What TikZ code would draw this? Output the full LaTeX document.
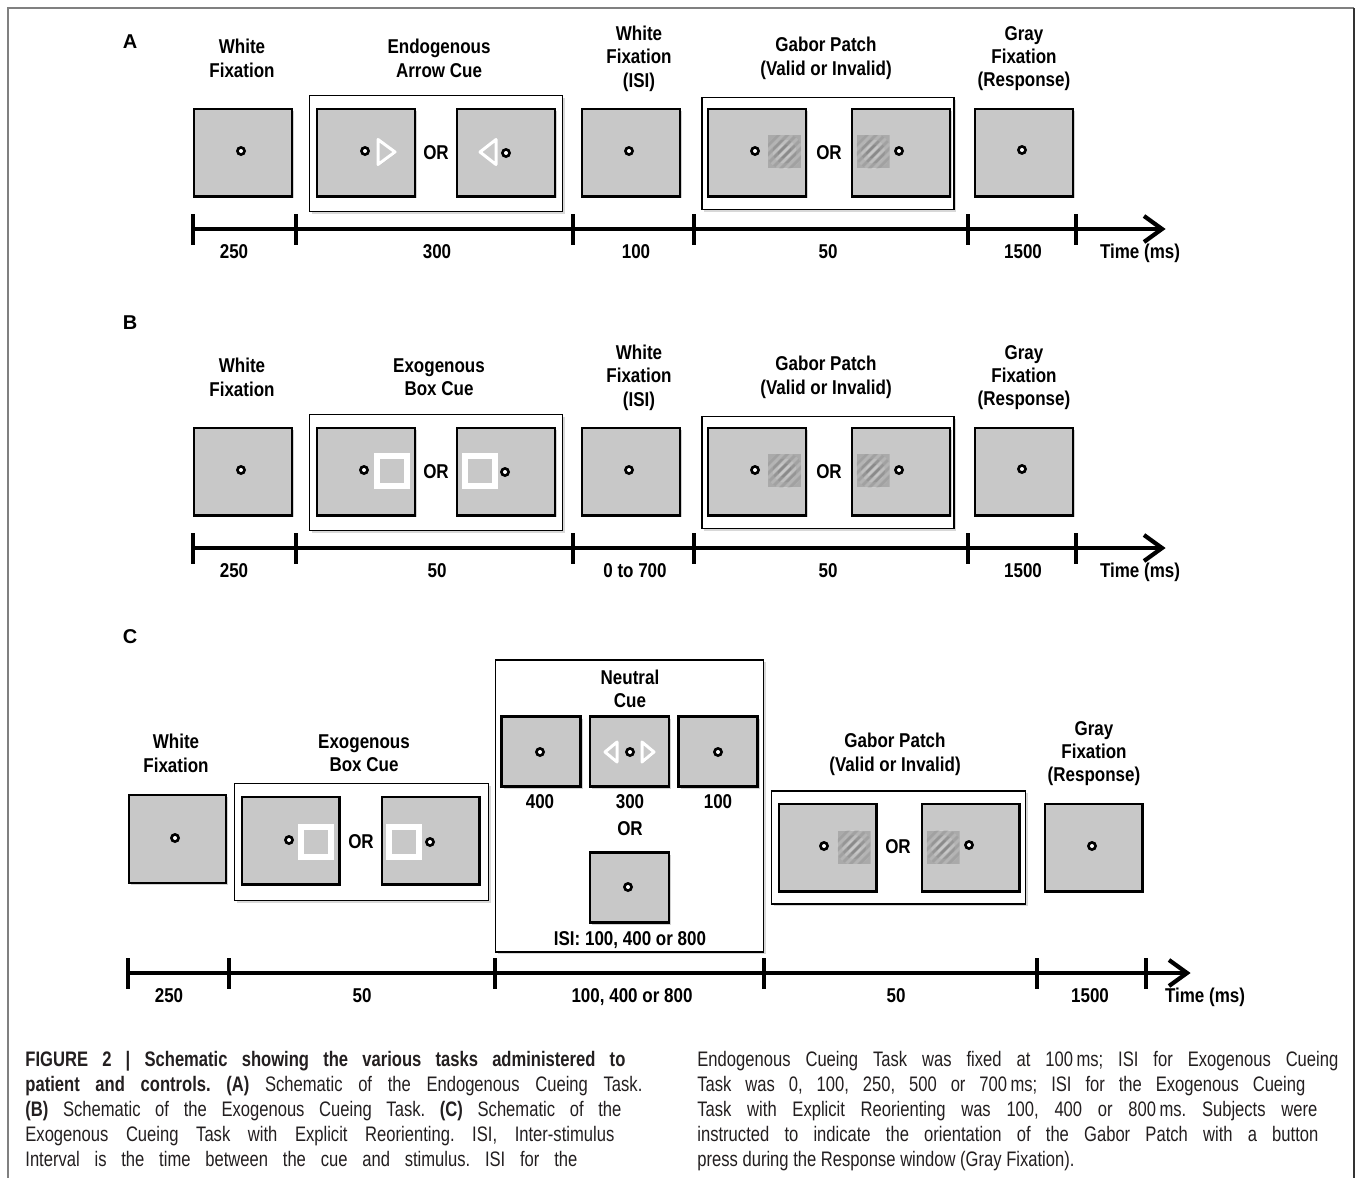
\documentclass[tikz,border=0pt]{standalone}
\usepackage{fontspec}
\setmainfont{Liberation Sans}
\newfontfamily\tfont[FakeStretch=0.85]{Liberation Sans}
\newfontfamily\cfont[FakeStretch=0.79]{Liberation Sans}
\usetikzlibrary{shadows}
\definecolor{boxgray}{RGB}{200,200,200}
\definecolor{gabbg}{RGB}{170,170,170}
\definecolor{capcol}{RGB}{35,31,32}
\newcommand\fxdot[2]{\fill[black] (#1,#2) circle[radius=2.5pt]; \fill[white] (#1,#2) circle[radius=1.0pt];}
\newcommand\gabstripes[4]{% x, y, white opacity, black opacity
  \foreach \k in {-3,-2,-1,0,1,2,3}{
    \draw[white, opacity=#3, line width=1.8pt] (#1-30+\k*9,#2+30) -- (#1+30+\k*9,#2-30);
    \draw[black, opacity=#4, line width=1.8pt] (#1-25.5+\k*9,#2+30) -- (#1+34.5+\k*9,#2-30);
  }}
\newcommand\gaborpatch[2]{%
  \begin{scope}
  \clip (#1-16.5,#2-16.5) rectangle (#1+16.5,#2+16.5);
  \fill[gabbg] (#1-16.5,#2-16.5) rectangle (#1+16.5,#2+16.5);
  \begin{scope}\clip (#1,#2) circle[radius=9pt]; \gabstripes{#1}{#2}{0.12}{0.05}\end{scope}
  \begin{scope}\clip (#1,#2) circle[radius=6pt]; \gabstripes{#1}{#2}{0.15}{0.07}\end{scope}
  \begin{scope}\clip (#1,#2) circle[radius=3.5pt]; \gabstripes{#1}{#2}{0.15}{0.07}\end{scope}
  \end{scope}}
\newcommand\boxcue[2]{\draw[white, line width=3pt, fill=boxgray] (#1-15,#2-15) rectangle (#1+15,#2+15);}
\newcommand\trih[4]{\draw[white, line width=1.5pt, line join=round, fill=boxgray,
   drop shadow={opacity=0.3,shadow xshift=0.6pt,shadow yshift=-0.6pt}]
   (#1,#2-#4) -- (#1+#3,#2) -- (#1,#2+#4) -- cycle;}
\tikzset{
 stim/.style={draw=black, line width=1.2pt, fill=boxgray, inner sep=0pt, minimum width=48.8pt, minimum height=43.8pt,
   drop shadow={opacity=0.35, shadow xshift=1pt, shadow yshift=-1pt}},
 smallstim/.style={stim, minimum width=39.5pt, minimum height=35pt},
 grp/.style={draw=black, line width=0.9pt, fill=white, inner sep=0pt,
   drop shadow={opacity=0.3, shadow xshift=1pt, shadow yshift=-1pt}},
 ttl/.style={font=\tfont\bfseries\fontsize{10pt}{11.7pt}\selectfont, align=center, inner sep=0pt},
 lbl/.style={font=\tfont\bfseries\fontsize{10pt}{11.7pt}\selectfont, inner sep=0pt},
 panel/.style={font=\bfseries\fontsize{10pt}{12pt}\selectfont, inner sep=0pt},
 tline/.style={line width=2pt},
 tickm/.style={line width=2.1pt},
 capl/.style={font=\cfont\fontsize{10.5pt}{12.5pt}\selectfont\frenchspacing, text=capcol, inner sep=0pt, anchor=base west},
}
\begin{document}
\begin{tikzpicture}[x=0.5pt, y=-0.5pt]
\useasboundingbox (0,0) rectangle (1355,1178);
\fill[white] (0,0) rectangle (1355,1178);
% outer figure frame
\draw[gray, line width=0.8pt] (8,1190) -- (8,8) -- (1354,8);
\draw[black!80, line width=1.1pt] (1354,8) -- (1354,1190);

% ================= Panel A =================
\node[panel] (pA) at (130,42) {A};
\node[ttl] (tA1) at (242,58.5) {White\\Fixation};
\node[ttl] (tA2) at (439,58.5) {Endogenous\\Arrow Cue};
\node[ttl] (tA3) at (639,58.5) {White\\Fixation\\(ISI)};
\node[ttl] (tA4) at (826,58.5) {Gabor Patch\\(Valid or Invalid)};
\node[ttl] (tA5) at (1024,58.5) {Gray\\Fixation\\(Response)};

\node[grp, minimum width=126.5pt, minimum height=58pt] (gA1) at (436,153.5) {};
\node[grp, minimum width=126pt, minimum height=56pt] (gA2) at (828,153.5) {};
\node[stim] (bA1) at (243,152.5) {};
\node[stim] (bA2a) at (366,152.5) {};
\node[stim] (bA2b) at (506,152.5) {};
\node[stim] (bA3) at (631,152.5) {};
\node[stim] (bA4a) at (757,152.5) {};
\node[stim] (bA4b) at (901,152.5) {};
\node[stim] (bA5) at (1024,152.5) {};
\node[lbl] (oA1) at (436,153) {OR};
\node[lbl] (oA2) at (829,153) {OR};
\fxdot{241}{151}
\fxdot{365}{151}\trih{378}{152}{17}{12.5}
\fxdot{506}{153}\trih{496}{152}{-16}{12.5}
\fxdot{629}{151}
\fxdot{755}{151}\gaborpatch{784.5}{151.5}
\fxdot{899}{151}\gaborpatch{873}{151.5}
\fxdot{1022}{150}

\coordinate (a0) at (193,229); \coordinate (a1) at (296,229); \coordinate (a2) at (573,229);
\coordinate (a3) at (694,229); \coordinate (a4) at (968,229); \coordinate (a5) at (1076,229);
\coordinate (aE) at (1162,229);
\draw[tline] (a0) -- (aE);
\foreach \c in {a0,a1,a2,a3,a4,a5} \draw[tickm] (\c) ++(0,-15) -- ++(0,31);
\draw[tickm, line join=miter] (aE) ++(-18,-13) -- (aE) -- ++(-18,13);
\node[lbl, anchor=base] (lA1) at (234,258) {250};
\node[lbl, anchor=base] (lA2) at (437,258) {300};
\node[lbl, anchor=base] (lA3) at (636,258) {100};
\node[lbl, anchor=base] (lA4) at (828,258) {50};
\node[lbl, anchor=base] (lA5) at (1023,258) {1500};
\node[lbl, anchor=base] (lA6) at (1140,258) {Time (ms)};

% ================= Panel B =================
\node[panel] (pB) at (130,323) {B};
\node[ttl] (tB1) at (242,377.5) {White\\Fixation};
\node[ttl] (tB2) at (439,377.5) {Exogenous\\Box Cue};
\node[ttl] (tB3) at (639,377.5) {White\\Fixation\\(ISI)};
\node[ttl] (tB4) at (826,377.5) {Gabor Patch\\(Valid or Invalid)};
\node[ttl] (tB5) at (1024,377.5) {Gray\\Fixation\\(Response)};

\node[grp, minimum width=126.5pt, minimum height=58pt] (gB1) at (436,472.5) {};
\node[grp, minimum width=126pt, minimum height=56pt] (gB2) at (828,472.5) {};
\node[stim] (bB1) at (243,471.5) {};
\node[stim] (bB2a) at (366,471.5) {};
\node[stim] (bB2b) at (506,471.5) {};
\node[stim] (bB3) at (631,471.5) {};
\node[stim] (bB4a) at (757,471.5) {};
\node[stim] (bB4b) at (901,471.5) {};
\node[stim] (bB5) at (1024,471.5) {};
\node[lbl] (oB1) at (436,472) {OR};
\node[lbl] (oB2) at (829,472) {OR};
\fxdot{241}{470}
\fxdot{364}{470}\boxcue{392}{470.5}
\fxdot{505}{472}\boxcue{480}{471}
\fxdot{629}{470}
\fxdot{755}{470}\gaborpatch{784.5}{470.5}
\fxdot{899}{470}\gaborpatch{873}{470.5}
\fxdot{1022}{469}

\coordinate (b0) at (193,548); \coordinate (b1) at (296,548); \coordinate (b2) at (573,548);
\coordinate (b3) at (694,548); \coordinate (b4) at (968,548); \coordinate (b5) at (1076,548);
\coordinate (bE) at (1162,548);
\draw[tline] (b0) -- (bE);
\foreach \c in {b0,b1,b2,b3,b4,b5} \draw[tickm] (\c) ++(0,-15) -- ++(0,31);
\draw[tickm, line join=miter] (bE) ++(-18,-13) -- (bE) -- ++(-18,13);
\node[lbl, anchor=base] (lB1) at (234,577) {250};
\node[lbl, anchor=base] (lB2) at (437,577) {50};
\node[lbl, anchor=base] (lB3) at (635,577) {0 to 700};
\node[lbl, anchor=base] (lB4) at (828,577) {50};
\node[lbl, anchor=base] (lB5) at (1023,577) {1500};
\node[lbl, anchor=base] (lB6) at (1140,577) {Time (ms)};

% ================= Panel C =================
\node[panel] (pC) at (130,637) {C};
\node[ttl] (tC1) at (176,753.5) {White\\Fixation};
\node[ttl] (tC2) at (364,753.5) {Exogenous\\Box Cue};
\node[ttl] (tC4) at (895,754.5) {Gabor Patch\\(Valid or Invalid)};
\node[ttl] (tC5) at (1094,753.5) {Gray\\Fixation\\(Response)};

\node[stim, minimum width=48.5pt] (bC1) at (177.5,839) {};
\fxdot{175}{838}
\node[grp, minimum width=127pt, minimum height=58.5pt] (gC2) at (361.5,842) {};
\node[stim] (bC2a) at (290.5,840.5) {};
\node[stim] (bC2b) at (430.5,840.5) {};
\node[lbl] (oC2) at (361,842) {OR};
\fxdot{289}{840}\boxcue{316}{842}
\fxdot{430}{842}\boxcue{404}{842}

\node[grp, minimum width=134pt, minimum height=146pt] (gC3) at (629.5,806) {};
\node[ttl] (tC3) at (630,689) {Neutral\\Cue};
\node[smallstim] (bC3a) at (541,751.5) {};
\node[smallstim] (bC3b) at (629.5,751.5) {};
\node[smallstim] (bC3c) at (718,751.5) {};
\node[smallstim] (bC3d) at (629.5,887.5) {};
\fxdot{540}{752}
\fxdot{630}{752}\trih{617}{752}{-12}{10}\trih{642}{752}{12}{10}
\fxdot{718}{752}
\fxdot{628}{887}
\node[lbl, anchor=base] (lC3a) at (540,808) {400};
\node[lbl, anchor=base] (lC3b) at (630,808) {300};
\node[lbl, anchor=base] (lC3c) at (718,808) {100};
\node[lbl, anchor=base] (oC3) at (630,835) {OR};
\node[lbl, anchor=base] (lC3d) at (630,945) {ISI: 100, 400 or 800};

\node[grp, minimum width=127pt, minimum height=56.5pt] (gC4) at (898.5,847.5) {};
\node[stim] (bC4a) at (827.5,847.5) {};
\node[stim] (bC4b) at (970.5,847.5) {};
\node[lbl] (oC4) at (898,847) {OR};
\fxdot{824}{846}\gaborpatch{854}{847}
\fxdot{969}{845}\gaborpatch{943}{847}
\node[stim] (bC5) at (1093.5,847.5) {};
\fxdot{1092}{846}

\coordinate (c0) at (128,973); \coordinate (c1) at (229,973); \coordinate (c2) at (495,973);
\coordinate (c3) at (764,973); \coordinate (c4) at (1037,973); \coordinate (c5) at (1146,973);
\coordinate (cE) at (1187,973);
\draw[tline] (c0) -- (cE);
\foreach \c in {c0,c1,c2,c3,c4,c5} \draw[tickm] (\c) ++(0,-15) -- ++(0,31);
\draw[tickm, line join=miter] (cE) ++(-18,-13) -- (cE) -- ++(-18,13);
\node[lbl, anchor=base] (lC1) at (169,1002) {250};
\node[lbl, anchor=base] (lC2) at (362,1002) {50};
\node[lbl, anchor=base] (lC3) at (632,1002) {100, 400 or 800};
\node[lbl, anchor=base] (lC4) at (896,1002) {50};
\node[lbl, anchor=base] (lC5) at (1090,1002) {1500};
\node[lbl, anchor=base] (lC6) at (1205,1002) {Time (ms)};

% ================= Caption =================
\node[capl] (k1) at (25,1066) {\makebox[300pt][s]{\bfseries FIGURE 2 | Schematic showing the various tasks administered to}};
\node[capl] (k2) at (25,1091) {\makebox[308.5pt][s]{\bfseries patient and controls.\mdseries{} \textbf{(A)} Schematic of the Endogenous Cueing Task.}};
\node[capl] (k3) at (25,1116) {\makebox[298pt][s]{\textbf{(B)} Schematic of the Exogenous Cueing Task. \textbf{(C)} Schematic of the}};
\node[capl] (k4) at (25,1141) {\makebox[294.5pt][s]{Exogenous Cueing Task with Explicit Reorienting. ISI, Inter-stimulus}};
\node[capl] (k5) at (25,1166) {\makebox[276pt][s]{Interval is the time between the cue and stimulus. ISI for the}};
\node[capl] (k6) at (697,1066) {\makebox[320.5pt][s]{Endogenous Cueing Task was fixed at 100\,ms; ISI for Exogenous Cueing}};
\node[capl] (k7) at (697,1091) {\makebox[304pt][s]{Task was 0, 100, 250, 500 or 700\,ms; ISI for the Exogenous Cueing}};
\node[capl] (k8) at (697,1116) {\makebox[310pt][s]{Task with Explicit Reorienting was 100, 400 or 800\,ms. Subjects were}};
\node[capl] (k9) at (697,1141) {\makebox[310.5pt][s]{instructed to indicate the orientation of the Gabor Patch with a button}};
\node[capl] (k10) at (697,1166) {press during the Response window (Gray Fixation).};
\end{tikzpicture}
\end{document}
